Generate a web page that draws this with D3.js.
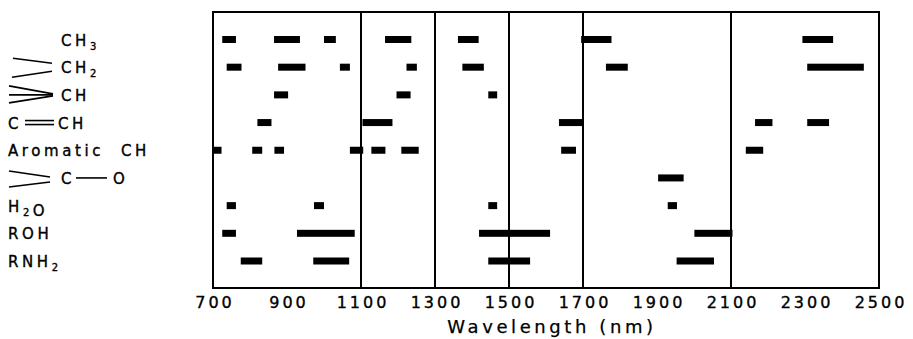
<!DOCTYPE html>
<html lang="en">
<head>
    <meta charset="utf-8" />
    <title>NIR band assignments</title>
    <script src="https://d3js.org/d3.v7.min.js"></script>
    <style>
        body { margin: 0; background: #fff; }
        svg { display: block; }
        .lbl { font-family: "DejaVu Sans", sans-serif; font-size: 15px; letter-spacing: 3.6px; fill: #000; stroke: #000; stroke-width: 0.35px; white-space: pre; }
        .tick text { font-family: "DejaVu Sans", sans-serif; font-size: 16px; letter-spacing: 3px; fill: #000; stroke: #000; stroke-width: 0.35px; }
        .title { font-family: "DejaVu Sans", sans-serif; font-size: 18px; letter-spacing: 3.6px; fill: #000; stroke: #000; stroke-width: 0.25px; }
        .bar { fill: #000; }
        .bond { stroke: #000; stroke-width: 1.6; fill: none; }
    </style>
</head>
<body>
<svg width="913" height="339"></svg>

<script>
    // rows top to bottom
    var rows = ["CH3", "CH2", "CH", "C=CH", "Aromatic CH", "C-O", "H2O", "ROH", "RNH2"];

    // absorption ranges in nm
    var ch3Bands = [[725, 762], [865, 935], [1000, 1032], [1165, 1236], [1362, 1418], [1695, 1777], [2293, 2376]];
    var ch2Bands = [[737, 777], [876, 950], [1043, 1070], [1223, 1251], [1374, 1432], [1762, 1821], [2306, 2459]];
    var chBands = [[865, 903], [1196, 1234], [1444, 1468]];
    var cchBands = [[820, 858], [1104, 1185], [1635, 1699], [2165, 2212], [2306, 2365]];
    var aromaticBands = [[700, 723], [806, 833], [866, 892], [1070, 1106], [1128, 1166], [1209, 1256], [1641, 1681], [2140, 2187]];
    var coBands = [[1903, 1972]];
    var h2oBands = [[737, 762], [973, 1000], [1444, 1468], [1929, 1954]];
    var rohBands = [[725, 762], [927, 1083], [1419, 1611], [2001, 2104]];
    var rnh2Bands = [[775, 833], [971, 1068], [1444, 1557], [1953, 2054]];

    var tickValues = [700, 900, 1100, 1300, 1500, 1700, 1900, 2100, 2300, 2500];
    var dividers = [1100, 1300, 1500, 1700, 2100];

    var bandsByRow = {
        "CH3": ch3Bands, "CH2": ch2Bands, "CH": chBands, "C=CH": cchBands,
        "Aromatic CH": aromaticBands, "C-O": coBands, "H2O": h2oBands,
        "ROH": rohBands, "RNH2": rnh2Bands
    };

    var svg = d3.select("svg"),
        plotLeft = 213, plotRight = 879, plotTop = 12, plotBottom = 288,
        barH = 7;

    var x = d3.scaleLinear().domain([700, 2500]).range([plotLeft, plotRight]),
        y = d3.scalePoint().domain(rows).range([39.5, 261]);

    // bars
    var data = [];
    rows.forEach(function (r) {
        bandsByRow[r].forEach(function (b) { data.push({ row: r, start: b[0], end: b[1] }); });
    });

    svg.append("g").selectAll("rect")
        .data(data)
        .enter().append("rect")
        .attr("class", "bar")
        .attr("x", function (d) { return x(d.start); })
        .attr("y", function (d) { return y(d.row) - barH / 2; })
        .attr("width", function (d) { return x(d.end) - x(d.start); })
        .attr("height", barH);

    // frame and divider lines
    svg.append("rect")
        .attr("x", plotLeft).attr("y", plotTop)
        .attr("width", plotRight - plotLeft).attr("height", plotBottom - plotTop)
        .attr("fill", "none").attr("stroke", "#000").attr("stroke-width", 2);

    svg.append("g").selectAll("line")
        .data(dividers)
        .enter().append("line")
        .attr("x1", function (d) { return x(d); }).attr("x2", function (d) { return x(d); })
        .attr("y1", plotTop).attr("y2", plotBottom)
        .attr("stroke", "#000").attr("stroke-width", 2);

    // x axis
    var axis = svg.append("g")
        .attr("transform", "translate(0," + plotBottom + ")")
        .call(d3.axisBottom(x).tickValues(tickValues).tickSize(0).tickPadding(9).tickFormat(d3.format("d")));
    axis.select(".domain").remove();
    axis.selectAll(".tick text").attr("dx", "1.5px");

    svg.append("text")
        .attr("class", "title")
        .attr("x", 552).attr("y", 333)
        .attr("text-anchor", "middle")
        .text("Wavelength (nm)");

    // row labels with little bond drawings
    function label(g, xPos, parts) {
        var t = g.append("text").attr("class", "lbl").attr("x", xPos).attr("y", 6);
        parts.forEach(function (p) {
            if (p.sub) {
                t.append("tspan").attr("dy", 4).attr("font-size", "10px").text(p.sub);
                t.append("tspan").attr("dy", -4).text("");
            } else {
                t.append("tspan").text(p.t);
            }
        });
    }
    function bond(g, x1, y1, x2, y2) {
        g.append("line").attr("class", "bond")
            .attr("x1", x1).attr("y1", y1).attr("x2", x2).attr("y2", y2);
    }

    var lab = svg.append("g").selectAll("g")
        .data(rows)
        .enter().append("g")
        .attr("transform", function (d) { return "translate(0," + y(d) + ")"; });

    lab.each(function (d) {
        var g = d3.select(this);
        if (d === "CH3") {
            label(g, 61, [{ t: "CH" }, { sub: "3" }]);
        } else if (d === "CH2") {
            bond(g, 13, -9, 52, -4);
            bond(g, 12, 10, 52, 4);
            label(g, 61, [{ t: "CH" }, { sub: "2" }]);
        } else if (d === "CH") {
            bond(g, 9, -9, 53, -1);
            bond(g, 9, 0, 53, 0);
            bond(g, 9, 8, 53, 1);
            label(g, 61, [{ t: "CH" }]);
        } else if (d === "C=CH") {
            label(g, 8, [{ t: "C" }]);
            bond(g, 25, -2, 54, -2);
            bond(g, 25, 2, 54, 2);
            label(g, 58, [{ t: "CH" }]);
        } else if (d === "Aromatic CH") {
            label(g, 8, [{ t: "Aromatic  CH" }]);
        } else if (d === "C-O") {
            bond(g, 9, -7, 50, -1);
            bond(g, 9, 9, 50, 4);
            label(g, 61, [{ t: "C" }]);
            bond(g, 76, 0, 107, 0);
            label(g, 113, [{ t: "O" }]);
        } else if (d === "H2O") {
            label(g, 8, [{ t: "H" }, { sub: "2" }, { t: "O" }]);
        } else if (d === "ROH") {
            label(g, 8, [{ t: "ROH" }]);
        } else if (d === "RNH2") {
            label(g, 8, [{ t: "RNH" }, { sub: "2" }]);
        }
    });
</script>
</body>
</html>
